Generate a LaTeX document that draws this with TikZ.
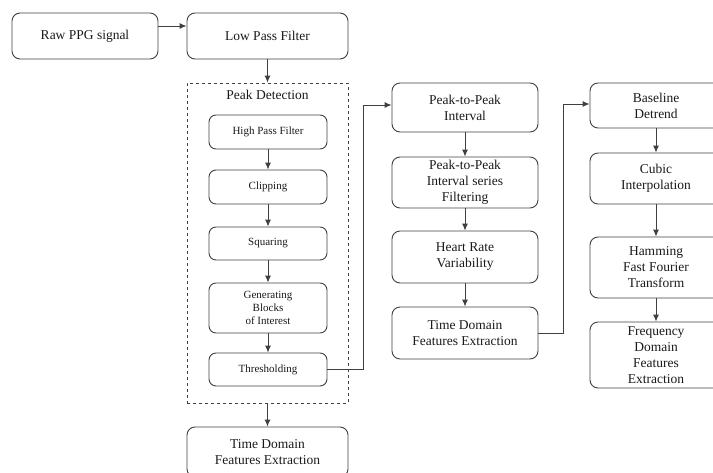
\documentclass[tikz,border=0pt]{standalone}
\usepackage{fontspec}
\setmainfont{Liberation Serif}
\usetikzlibrary{arrows.meta,calc}
\tikzset{
  box/.style={draw=black!75, line width=0.9pt, rounded corners=8pt, align=center, inner sep=0pt, font=\fontsize{13.5}{16}\selectfont, text=black!90},
  sbox/.style={box, font=\fontsize{11}{13}\selectfont, rounded corners=7pt},
  arr/.style={draw=black!75, line width=0.9pt, -{Latex[length=7pt,width=6pt]}},
  pdbox/.style={draw=black!75, line width=0.8pt, dashed, inner sep=0pt},
}
\begin{document}
\begin{tikzpicture}[x=1pt,y=-1pt]
\useasboundingbox (0,0) rectangle (713,472);
% top row
\node[box, minimum width=146pt, minimum height=46pt] (raw) at (85,36) {Raw PPG signal};
\node[box, minimum width=161pt, minimum height=46pt] (lpf) at (267.5,36) {Low Pass Filter};
\draw[arr] ([yshift=10pt]raw.east) -- ([yshift=10pt]lpf.west);
% peak detection group
\node[pdbox, minimum width=161pt, minimum height=320pt] (pd) at (267.5,243) {};
\node[font=\fontsize{13.5}{16}\selectfont, text=black!90] (pdl) at (267.5,95) {Peak Detection};
\draw[arr] (lpf.south) -- (pd.north);
\node[sbox, minimum width=118pt, minimum height=34pt] (hpf) at (268,132) {High Pass Filter};
\node[sbox, minimum width=118pt, minimum height=34pt] (clip) at (268,187) {Clipping};
\node[sbox, minimum width=118pt, minimum height=33pt] (sq) at (268,243.5) {Squaring};
\node[sbox, minimum width=118pt, minimum height=50pt] (gen) at (268,308) {Generating\\Blocks\\of Interest};
\node[sbox, minimum width=118pt, minimum height=33pt] (thr) at (268,369.5) {Thresholding};
\draw[arr] (hpf) -- (clip);
\draw[arr] (clip) -- (sq);
\draw[arr] (sq) -- (gen);
\draw[arr] (gen) -- (thr);
% bottom
\node[box, minimum width=161pt, minimum height=50pt] (tdb) at (267.5,452) {Time Domain\\Features Extraction};
\draw[arr] (pd.south) -- (tdb.north);
% middle column
\node[box, minimum width=146pt, minimum height=49pt] (p2p) at (465,107.5) {Peak-to-Peak\\Interval};
\node[box, minimum width=146pt, minimum height=51pt] (p2pf) at (465,182.5) {Peak-to-Peak\\Interval series\\Filtering};
\node[box, minimum width=146pt, minimum height=52pt] (hrv) at (465,257) {Heart Rate\\Variability};
\node[box, minimum width=146pt, minimum height=52pt] (tdf) at (465,333) {Time Domain\\Features Extraction};
\draw[arr] (p2p) -- (p2pf);
\draw[arr] (p2pf) -- (hrv);
\draw[arr] (hrv) -- (tdf);
\coordinate (c1) at (363,369.5);
\draw[arr] (thr.east) -- (c1) |- ([yshift=2.5pt]p2p.west);
% right column
\node[box, minimum width=132pt, minimum height=45pt] (bd) at (656,105.5) {Baseline\\Detrend};
\node[box, minimum width=132pt, minimum height=51pt] (ci) at (656,178.5) {Cubic\\Interpolation};
\node[box, minimum width=132pt, minimum height=61pt] (hf) at (656,267.5) {Hamming\\Fast Fourier\\Transform};
\node[box, minimum width=132pt, minimum height=66pt] (fd) at (656,355) {Frequency\\Domain\\Features\\Extraction};
\draw[arr] (bd) -- (ci);
\draw[arr] (ci) -- (hf);
\draw[arr] (hf) -- (fd);
\coordinate (c2) at (563,333);
\draw[arr] (tdf.east) -- (c2) |- ([yshift=1.5pt]bd.west);
\end{tikzpicture}
\end{document}
